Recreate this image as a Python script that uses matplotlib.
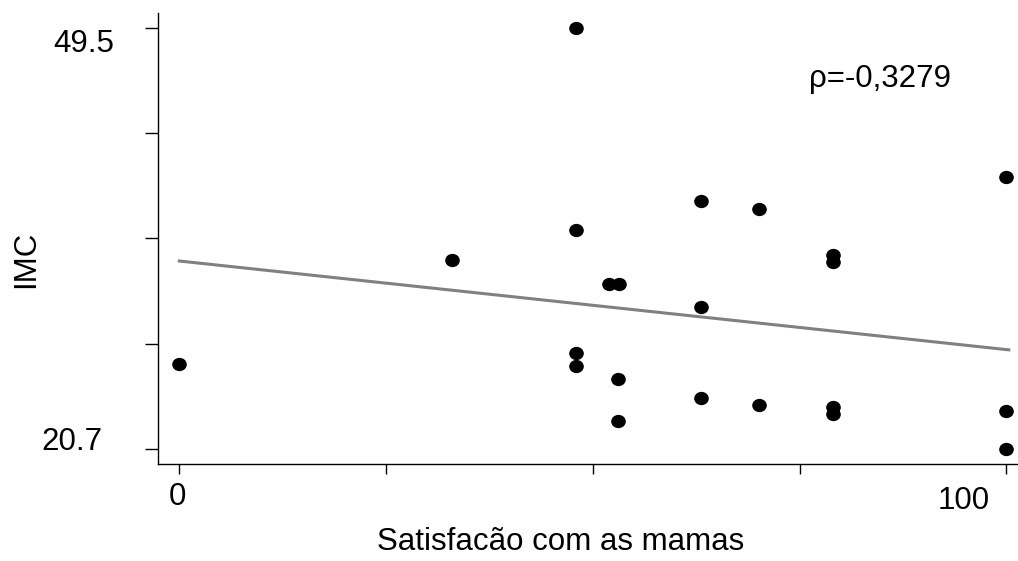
import matplotlib
matplotlib.use("Agg")
import matplotlib.pyplot as plt
from matplotlib.path import Path
from matplotlib.markers import MarkerStyle
from matplotlib.transforms import Affine2D, ScaledTranslation

plt.rcParams['font.family'] = ['Liberation Sans', 'DejaVu Sans']

# ---- data ----
satisfacao = [0, 33.0, 48.0, 48.0, 48.0, 48.0, 52.0, 53.2, 53.1, 53.1,
              63.1, 63.1, 63.1, 70.1, 70.1, 79.1, 79.1, 79.1, 79.1,
              100, 100, 100]
imc = [26.52, 33.63, 49.5, 35.68, 27.29, 26.40, 32.01, 32.01, 25.49, 22.60,
       37.69, 30.42, 24.21, 37.10, 23.71, 33.97, 33.52, 23.60, 23.08,
       39.31, 23.32, 20.72]
fit_x = [0, 100.3]
fit_y = [33.56, 27.48]
x_ticks = [0, 25, 50, 75, 100]
x_ticklabels = ['0', '', '', '', '100']
y_ticks = [20.7, 27.9, 35.1, 42.3, 49.5]
y_ticklabels = ['20.7', '', '', '', '49.5']
rho_text = 'ρ=-0,3279'

FS = 22.5
fig = plt.figure(figsize=(10.18, 5.61), dpi=100)
ax = fig.add_axes([158/1018, 97/561, 860/1018, 451/561])

ax.plot(fit_x, fit_y, color='#808080', lw=2.2, zorder=2)
ell = Path.unit_circle().transformed(Affine2D().scale(1.0, 0.9))
ax.plot(satisfacao, imc, linestyle='none', marker=MarkerStyle(ell),
        markersize=9.5, color='black', zorder=3)

ax.set_xlim(-2.58, 101.41)
ax.set_ylim(19.67, 50.53)
for s in ['top', 'right']:
    ax.spines[s].set_visible(False)
for s in ['left', 'bottom']:
    ax.spines[s].set_linewidth(1.0)

ax.set_xticks(x_ticks)
ax.set_xticklabels(x_ticklabels, fontsize=FS)
ax.set_yticks(y_ticks)
ax.set_yticklabels(y_ticklabels, fontsize=FS)
ax.tick_params(axis='x', direction='out', length=7.2, width=1.0, pad=6)
ax.tick_params(axis='y', direction='out', length=9.4, width=1.0, pad=22)

def shift(lbl, dx, dy):
    lbl.set_transform(lbl.get_transform() +
                      ScaledTranslation(dx / 100, dy / 100, fig.dpi_scale_trans))

xl = ax.get_xticklabels()
shift(xl[0], -2, 0)
shift(xl[4], -43, -4)
yl = ax.get_yticklabels()
shift(yl[0], -12, 10)
shift(yl[4], 0, -12)

ax.set_ylabel('IMC', fontsize=FS, va='center')
ax.yaxis.set_label_coords(-0.1535, 0.4545)
ax.set_xlabel('Satisfacão com as mamas', fontsize=FS, va='center')
ax.xaxis.set_label_coords(0.4686, -0.173)

ax.text(76.1, 45.49, rho_text, fontsize=FS, va='baseline', ha='left')

fig.savefig('out.png', dpi=100)
